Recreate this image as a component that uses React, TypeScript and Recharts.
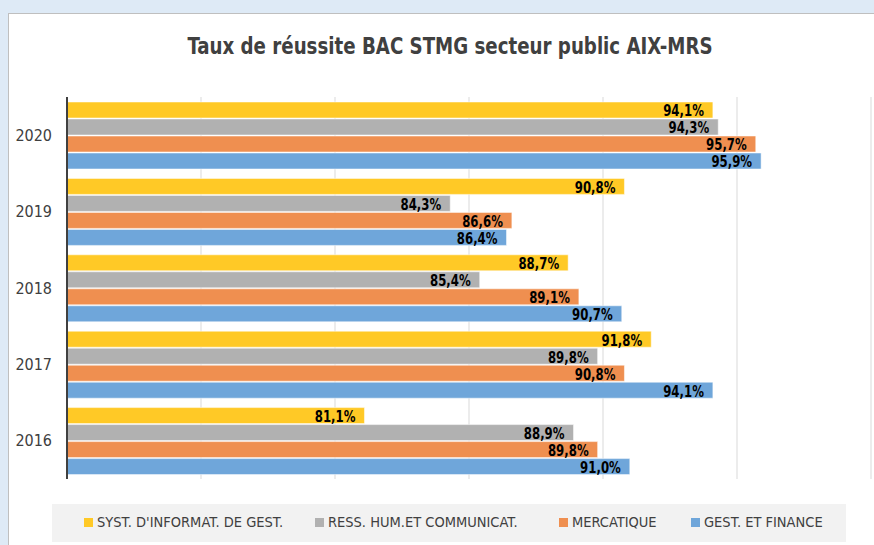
import React from 'react';
import { BarChart, Bar, XAxis, YAxis, CartesianGrid, LabelList } from 'recharts';

const years = ['2020', '2019', '2018', '2017', '2016'];
const systInfo = [94.1, 90.8, 88.7, 91.8, 81.1];
const ressHum = [94.3, 84.3, 85.4, 89.8, 88.9];
const mercatique = [95.7, 86.6, 89.1, 90.8, 89.8];
const gestFinance = [95.9, 86.4, 90.7, 94.1, 91.0];
const xTicks = [70, 75, 80, 85, 90, 95, 100];

const seriesList = [
  { key: 'syst', name: "SYST. D'INFORMAT. DE GEST.", color: '#FFC926' },
  { key: 'ress', name: 'RESS. HUM.ET COMMUNICAT.', color: '#B1B1B1' },
  { key: 'merc', name: 'MERCATIQUE', color: '#EF8F50' },
  { key: 'gest', name: 'GEST. ET FINANCE', color: '#6FA6DA' },
];

const chartData = years.map((year, i) => ({
  year,
  syst: systInfo[i],
  ress: ressHum[i],
  merc: mercatique[i],
  gest: gestFinance[i],
}));

const FONT = '"DejaVu Sans Condensed", "DejaVu Sans", sans-serif';

const formatPct = (v: any) => Number(v).toFixed(1).replace('.', ',') + '%';

// narrow label drawn at the inner end of each bar (Calibri-ish width)
const BarValueLabel = (props: any) => {
  const { x, y, width, height, value } = props;
  const tx = Number(x) + Number(width) - 9;
  const ty = Number(y) + Number(height) / 2 + 1;
  return (
    <text
      transform={`translate(${tx},${ty}) scale(0.87,1)`}
      textAnchor="end"
      dominantBaseline="central"
      fill="#000"
      fontSize={15}
      fontWeight="bold"
      fontFamily={FONT}
    >
      {formatPct(value)}
    </text>
  );
};

const App: React.FC = () => {
  return (
    <div
      style={{
        position: 'absolute',
        left: 0,
        top: 0,
        width: 874,
        height: 545,
        background: '#DEEAF6',
        overflow: 'hidden',
        fontFamily: FONT,
      }}
    >
      <div
        style={{
          position: 'absolute',
          left: 8,
          top: 13,
          width: 870,
          height: 540,
          background: '#fff',
          borderLeft: '1px solid #BFBFBF',
          borderTop: '1px solid #BFBFBF',
        }}
      />
      <div
        style={{
          position: 'absolute',
          left: 0,
          top: 33,
          width: 900,
          textAlign: 'center',
          fontSize: 23,
          fontWeight: 'bold',
          color: '#404040',
          transform: 'scaleX(0.88)',
          transformOrigin: '450px 0',
        }}
      >
        Taux de réussite BAC STMG secteur public AIX-MRS
      </div>
      <div style={{ position: 'absolute', left: 0, top: 0 }}>
        <BarChart
          width={874}
          height={545}
          data={chartData}
          layout="vertical"
          margin={{ top: 97, right: 3, bottom: 65, left: 17 }}
          barSize={16}
          barGap={1}
        >
          <CartesianGrid horizontal={false} stroke="#D9D9D9" />
          <XAxis
            type="number"
            domain={[70, 100]}
            ticks={xTicks}
            tick={() => <g />}
            tickLine={false}
            axisLine={false}
            height={1}
          />
          <YAxis
            type="category"
            dataKey="year"
            width={50}
            tickLine={false}
            tickSize={6}
            tickMargin={9}
            axisLine={{ stroke: '#404040', strokeWidth: 2 }}
            tick={{ fill: '#404040', fontSize: 16, fontFamily: FONT }}
          />
          {seriesList.map((s) => (
            <Bar
              key={s.key}
              dataKey={s.key}
              name={s.name}
              fill={s.color}
              stroke="#ffffff"
              strokeOpacity={0.5}
              isAnimationActive={false}
            >
              <LabelList dataKey={s.key} content={BarValueLabel} />
            </Bar>
          ))}
        </BarChart>
      </div>
      <div
        style={{
          position: 'absolute',
          left: 52,
          top: 504,
          width: 794,
          height: 38,
          background: '#F2F2F2',
        }}
      >
        {seriesList.map((s, i) => (
          <div
            key={s.key}
            style={{
              position: 'absolute',
              left: [32, 263, 507, 639][i],
              top: 10,
              display: 'flex',
              alignItems: 'center',
              fontSize: 14.5,
              color: '#404040',
              whiteSpace: 'nowrap',
            }}
          >
            <span style={{ display: 'inline-block', width: 9, height: 9, background: s.color, marginRight: 4 }} />
            {s.name}
          </div>
        ))}
      </div>
    </div>
  );
};

export default App;
